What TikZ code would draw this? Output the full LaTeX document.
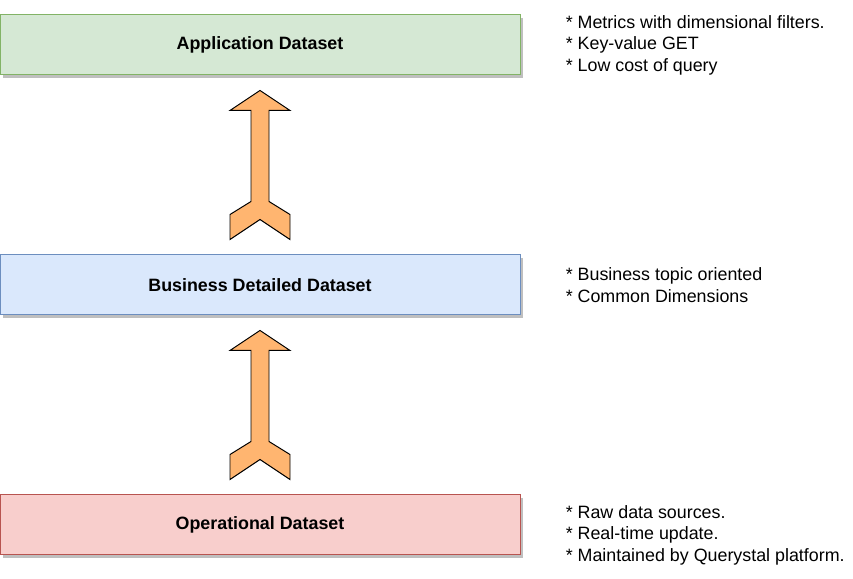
\documentclass[tikz,border=0pt]{standalone}
\usepackage{fontspec}
\setmainfont{Liberation Sans}
\usetikzlibrary{positioning, calc, shadows}

\definecolor{appfill}{HTML}{D5E8D4}
\definecolor{appline}{HTML}{82B366}
\definecolor{bizfill}{HTML}{DAE8FC}
\definecolor{bizline}{HTML}{6C8EBF}
\definecolor{opfill}{HTML}{F8CECC}
\definecolor{opline}{HTML}{B85450}
\definecolor{arrfill}{HTML}{FFB570}

\begin{document}
\begin{tikzpicture}[
  layer/.style={rectangle, draw, line width=0.7pt, minimum width=13cm, minimum height=1.5cm, font=\fontsize{12.7}{15.3}\selectfont\bfseries, text centered,
    drop shadow={shadow xshift=0.075cm, shadow yshift=-0.075cm, fill=black!25, opacity=1}},
  notes/.style={inner sep=0pt, align=left, font=\fontsize{12.7}{15.3}\selectfont},
  liftarr/.style={draw=black, fill=arrfill, line width=0.7pt, line join=miter}
]
\useasboundingbox (0,0) rectangle (21.325,14.475);

\node[layer, fill=appfill, draw=appline] (app) at (6.5, 13.35) {Application Dataset};
\node[layer, fill=bizfill, draw=bizline] (bd)  at (6.5, 7.35)  {Business Detailed Dataset};
\node[layer, fill=opfill, draw=opline]   (op)  at (6.5, 1.35)  {Operational Dataset};

\node[notes, right=1.125cm of app] (appnote) {* Metrics with dimensional filters.\\* Key-value GET\\* Low cost of query};
\node[notes, right=1.125cm of bd] (bdnote) {* Business topic oriented\\* Common Dimensions};
\node[notes, right=1.125cm of op, yshift=-0.25cm] (opnote) {* Raw data sources.\\* Real-time update.\\* Maintained by Querystal platform.};

% notched block arrows between the layers
\foreach \lo/\hi in {op/bd, bd/app} {
  \coordinate (b) at ($(\lo.north)+(0,0.375)$);
  \coordinate (t) at ($(\hi.south)+(0,-0.375)$);
  \draw[liftarr] (t) -- ($(t)+(0.75,-0.5)$) -- ($(t)+(0.225,-0.5)$)
    -- ($(b)+(0.225,0.95)$) -- ($(b)+(0.75,0.625)$) -- ($(b)+(0.75,0)$)
    -- ($(b)+(0,0.5)$) -- ($(b)+(-0.75,0)$) -- ($(b)+(-0.75,0.625)$)
    -- ($(b)+(-0.225,0.95)$) -- ($(t)+(-0.225,-0.5)$) -- ($(t)+(-0.75,-0.5)$) -- cycle;
}

\end{tikzpicture}
\end{document}
